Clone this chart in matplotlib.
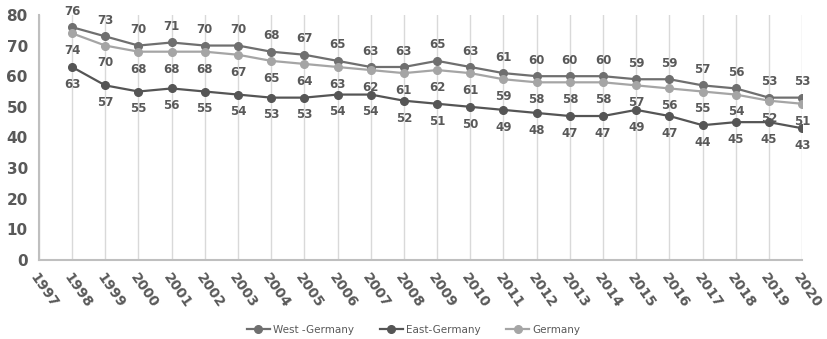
import matplotlib.pyplot as plt

years = list(range(1998, 2021))
tick_years = list(range(1997, 2021))

west = [76, 73, 70, 71, 70, 70, 68, 67, 65, 63, 63, 65, 63, 61, 60, 60, 60, 59, 59, 57, 56, 53, 53]
east = [63, 57, 55, 56, 55, 54, 53, 53, 54, 54, 52, 51, 50, 49, 48, 47, 47, 49, 47, 44, 45, 45, 43]
germany = [74, 70, 68, 68, 68, 67, 65, 64, 63, 62, 61, 62, 61, 59, 58, 58, 58, 57, 56, 55, 54, 52, 51]

text_col = "#595959"

fig = plt.figure(figsize=(8.27, 3.39), dpi=100)
ax = fig.add_axes([0.047, 0.233, 0.923, 0.723])

series = [
    ("West -Germany", west, "#6f6f6f", 11.5),
    ("East-Germany", east, "#555555", -12.5),
    ("Germany", germany, "#a5a5a5", -12.5),
]
for name, vals, col, off in series:
    ax.plot(years, vals, color=col, lw=1.6, marker="o", ms=5.5, label=name, zorder=3)
    for x, v in zip(years, vals):
        ax.annotate(str(v), (x, v), xytext=(0, off), textcoords="offset points",
                    ha="center", va="center", fontsize=8.5, fontweight="bold",
                    color=text_col)

ax.set_xlim(1997, 2020)
ax.set_ylim(0, 80)
ax.set_xticks(tick_years)
ax.set_xticklabels([str(y) for y in tick_years], rotation=-55, ha="left", va="top",
                   rotation_mode="anchor", fontsize=10, fontweight="bold", color=text_col)
ax.set_yticks(range(0, 81, 10))
ax.set_yticklabels([str(v) for v in range(0, 81, 10)], fontsize=11, fontweight="bold",
                   color=text_col)
ax.tick_params(length=0, pad=8)
ax.tick_params(axis="x", pad=8)
ax.grid(axis="x", color="#d9d9d9", lw=1)
for s in ["top", "right"]:
    ax.spines[s].set_visible(False)
for s in ["left", "bottom"]:
    ax.spines[s].set_color("#bfbfbf")
    ax.spines[s].set_linewidth(1.5)

leg = fig.legend(loc="lower center", bbox_to_anchor=(0.5, -0.015), ncol=3, frameon=False,
                 fontsize=7.5, handlelength=2.2, columnspacing=2.5, handletextpad=0.3)
for t in leg.get_texts():
    t.set_color(text_col)

fig.savefig("out.png", dpi=100)
